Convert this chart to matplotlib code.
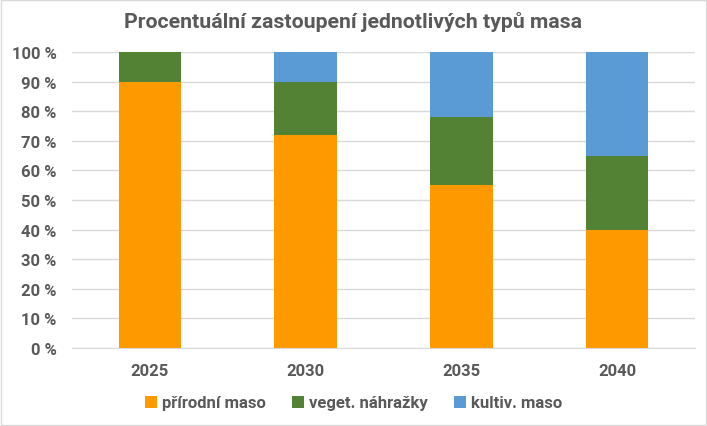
import numpy as np
import matplotlib.pyplot as plt
from matplotlib.patches import Rectangle

plt.rcParams['font.family'] = ['Roboto', 'DejaVu Sans']

years = ['2025', '2030', '2035', '2040']
prirodni = [90, 72, 55, 40]
veget = [10, 18, 23, 25]
kultiv = [0, 10, 22, 35]
labels = ['přírodní maso', 'veget. náhražky', 'kultiv. maso']
colors = ['#FF9900', '#548235', '#5B9BD5']
text_col = '#595959'


def drawing():
    fig = plt.figure(figsize=(7.07, 4.27), dpi=100)
    ax = fig.add_axes([72 / 707, 1 - 349 / 427, 623 / 707, 296 / 427])

    x = np.arange(len(years))
    bottom = np.zeros(len(years))
    for vals, lab, col in zip([prirodni, veget, kultiv], labels, colors):
        ax.bar(x, vals, width=0.4, bottom=bottom, color=col, label=lab, zorder=2)
        bottom += np.array(vals)

    ax.set_xlim(-0.5, len(years) - 0.5)
    ax.set_ylim(0, 100)
    ax.set_yticks(range(0, 101, 10))
    ax.set_yticklabels(['%d %%' % v for v in range(0, 101, 10)],
                       fontweight='bold', fontsize=12, color=text_col)
    ax.set_xticks(x)
    ax.set_xticklabels(years, fontweight='bold', fontsize=12, color=text_col)
    ax.tick_params(axis='both', length=0)
    ax.tick_params(axis='y', pad=11)
    ax.tick_params(axis='x', pad=11)
    ax.grid(axis='y', color='#D9D9D9', linewidth=1, zorder=0)
    for s in ['top', 'left', 'right']:
        ax.spines[s].set_visible(False)
    ax.spines['bottom'].set_color('#D9D9D9')

    fig.text(0.5, 1 - 22 / 427, 'Procentuální zastoupení jednotlivých typů masa',
             ha='center', va='center', fontsize=15.3, fontweight='bold', color=text_col)

    fig.legend(loc='center', bbox_to_anchor=(0.5, 1 - 404 / 427), ncol=3,
               frameon=False, prop={'size': 12, 'weight': 'bold'},
               handlelength=0.7, handleheight=0.7,
               handletextpad=0.3, columnspacing=1.6, labelcolor=text_col)

    fig.patches.append(Rectangle((0.002, 0.003), 0.996, 0.994, transform=fig.transFigure,
                                 fill=False, edgecolor='#D9D9D9', linewidth=1))
    fig.savefig('out.png', dpi=100)


def main():
    drawing()


if __name__ == '__main__':
    main()
